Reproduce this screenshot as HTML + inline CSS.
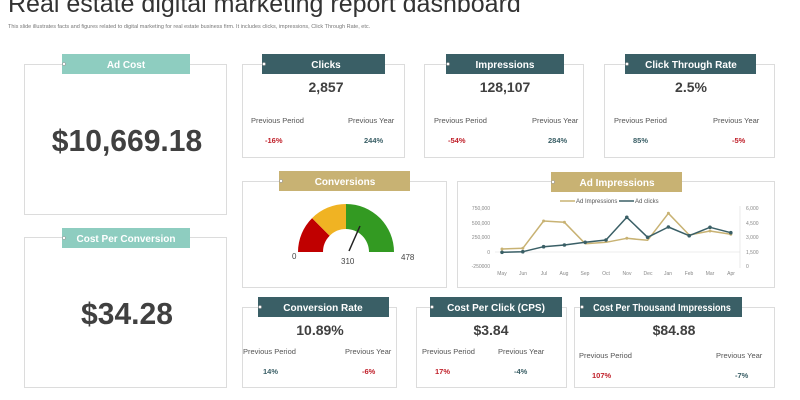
<!DOCTYPE html>
<html><head><meta charset="utf-8"><style>
body{margin:0;background:#fff;}
svg{display:block;font-family:"Liberation Sans",sans-serif;}
</style></head><body>
<svg width="800" height="400" viewBox="0 0 800 400" xmlns="http://www.w3.org/2000/svg">
<text x="8" y="12" font-size="25" fill="#333">Real estate  digital marketing report dashboard</text>
<text x="8" y="28" font-size="5.5" fill="#777">This slide illustrates facts and figures related to digital marketing  for real estate business firm. It includes clicks, impressions, Click Through Rate, etc.</text>
<g fill="#fff" stroke="#dcdcdc" stroke-width="1">
<rect x="24.5" y="64.5" width="202" height="150"/>
<rect x="24.5" y="237.5" width="202" height="150"/>
<rect x="242.5" y="64.5" width="162" height="93"/>
<rect x="424.5" y="64.5" width="159" height="93"/>
<rect x="604.5" y="64.5" width="170" height="93"/>
<rect x="242.5" y="181.5" width="204" height="106"/>
<rect x="457.5" y="181.5" width="317" height="106"/>
<rect x="242.5" y="307.5" width="154" height="80"/>
<rect x="416.5" y="307.5" width="150" height="80"/>
<rect x="574.5" y="307.5" width="200" height="80"/>
</g>
<g font-size="10" fill="#fff" text-anchor="middle" font-weight="bold">
<rect x="62" y="54" width="128" height="20" fill="#8ecdc0"/><text x="126" y="68">Ad Cost</text>
<rect x="62" y="228" width="128" height="20" fill="#8ecdc0"/><text x="126" y="242">Cost Per Conversion</text>
<rect x="262" y="54" width="123" height="20" fill="#3a5f66"/><text x="326" y="68">Clicks</text>
<rect x="446" y="54" width="118" height="20" fill="#3a5f66"/><text x="505" y="68">Impressions</text>
<rect x="625" y="54" width="131" height="20" fill="#3a5f66"/><text x="691" y="68">Click Through Rate</text>
<rect x="279" y="171" width="131" height="20" fill="#c8b273"/><text x="345" y="185">Conversions</text>
<rect x="551" y="172" width="131" height="20" fill="#c8b273"/><text x="617" y="186">Ad Impressions</text>
<rect x="258" y="297" width="131" height="20" fill="#3a5f66"/><text x="323" y="311">Conversion Rate</text>
<rect x="430" y="297" width="132" height="20" fill="#3a5f66"/><text x="496" y="311">Cost Per Click (CPS)</text>
<rect x="580" y="297" width="162" height="20" fill="#3a5f66"/><text transform="translate(662 311) scale(0.9 1)" x="0" y="0">Cost Per Thousand Impressions</text>
</g>
<g fill="#fff" stroke="#999" stroke-width="0.6">
<circle cx="64" cy="64" r="1.5"/><circle cx="64" cy="238" r="1.5"/><circle cx="264" cy="64" r="1.5"/><circle cx="448" cy="64" r="1.5"/><circle cx="627" cy="64" r="1.5"/><circle cx="281" cy="181" r="1.5"/><circle cx="553" cy="182" r="1.5"/><circle cx="260" cy="307" r="1.5"/><circle cx="432" cy="307" r="1.5"/><circle cx="582" cy="307" r="1.5"/>
</g>
<g fill="#404040" font-weight="bold" text-anchor="middle">
<text transform="translate(127 151) scale(0.97 1)" font-size="31">$10,669.18</text>
<text transform="translate(127 324) scale(0.97 1)" font-size="31">$34.28</text>
<text x="326" y="92" font-size="14">2,857</text>
<text x="505" y="92" font-size="14">128,107</text>
<text x="691" y="92" font-size="14">2.5%</text>
<text x="320" y="335" font-size="14">10.89%</text>
<text x="491" y="335" font-size="14">$3.84</text>
<text x="674" y="335" font-size="14">$84.88</text>
</g>
<g font-size="7.5" fill="#555">
<text x="251" y="123">Previous  Period</text><text x="348" y="123">Previous  Year</text>
<text x="434" y="123">Previous  Period</text><text x="532" y="123">Previous  Year</text>
<text x="614" y="123">Previous  Period</text><text x="713" y="123">Previous  Year</text>
<text x="243" y="354">Previous  Period</text><text x="345" y="354">Previous  Year</text>
<text x="422" y="354">Previous  Period</text><text x="498" y="354">Previous  Year</text>
<text x="579" y="358">Previous  Period</text><text x="716" y="358">Previous  Year</text>
</g>
<g font-size="7.5" font-weight="bold">
<text x="265" y="143" fill="#c0202a">-16%</text><text x="364" y="143" fill="#3a5f66">244%</text>
<text x="448" y="143" fill="#c0202a">-54%</text><text x="548" y="143" fill="#3a5f66">284%</text>
<text x="633" y="143" fill="#3a5f66">85%</text><text x="732" y="143" fill="#c0202a">-5%</text>
<text x="263" y="374" fill="#3a5f66">14%</text><text x="362" y="374" fill="#c0202a">-6%</text>
<text x="435" y="374" fill="#c0202a">17%</text><text x="514" y="374" fill="#3a5f66">-4%</text>
<text x="592" y="378" fill="#c0202a">107%</text><text x="735" y="378" fill="#3a5f66">-7%</text>
</g>
<path d="M298 252 A48 48 0 0 1 312.1 218.1 L329.7 235.7 A23 23 0 0 0 323 252 Z" fill="#c00000"/>
<path d="M312.1 218.1 A48 48 0 0 1 346 204 L346 229 A23 23 0 0 0 329.7 235.7 Z" fill="#f0b323"/>
<path d="M346 204 A48 48 0 0 1 394 252 L369 252 A23 23 0 0 0 346 229 Z" fill="#339a22"/>
<line x1="349" y1="251" x2="360" y2="226" stroke="#222" stroke-width="1.5"/>
<g font-size="8" fill="#444"><text x="292" y="259">0</text><text x="341" y="264">310</text><text x="401" y="260">478</text></g>
<g font-size="5" fill="#888">
<text x="490" y="210" text-anchor="end">750,000</text><text x="490" y="225" text-anchor="end">500,000</text><text x="490" y="239" text-anchor="end">250,000</text><text x="490" y="254" text-anchor="end">0</text><text x="490" y="268" text-anchor="end">-250000</text>
<text x="746" y="210">6,000</text><text x="746" y="225">4,500</text><text x="746" y="239">3,000</text><text x="746" y="254">1,500</text><text x="746" y="268">0</text>
<g text-anchor="middle"><text x="502" y="275">May</text><text x="523" y="275">Jun</text><text x="544" y="275">Jul</text><text x="564" y="275">Aug</text><text x="585" y="275">Sep</text><text x="606" y="275">Oct</text><text x="627" y="275">Nov</text><text x="648" y="275">Dec</text><text x="668" y="275">Jan</text><text x="689" y="275">Feb</text><text x="710" y="275">Mar</text><text x="731" y="275">Apr</text></g>
<text x="576" y="203" font-size="6" fill="#555">Ad Impressions</text><text x="635" y="203" font-size="6" fill="#555">Ad clicks</text>
</g>
<line x1="560" y1="201" x2="575" y2="201" stroke="#c8b273" stroke-width="1.5"/>
<line x1="619" y1="201" x2="634" y2="201" stroke="#3a5f66" stroke-width="1.5"/>
<line x1="495" y1="252" x2="740" y2="252" stroke="#ddd" stroke-width="0.6"/>
<line x1="740" y1="206" x2="740" y2="268" stroke="#ddd" stroke-width="0.6"/>
<polyline fill="none" stroke="#c8b273" stroke-width="1.5" stroke-linejoin="round" points="502,249 522.8,248.3 543.6,221 564.4,222.3 585.2,243.7 606,242.3 626.8,238.3 647.6,240.3 668.4,213.3 689.2,235 710,231 730.8,234.3"/>
<polyline fill="none" stroke="#3a5f66" stroke-width="1.5" stroke-linejoin="round" points="502,252.3 522.8,251.7 543.6,246.7 564.4,245 585.2,242.3 606,240 626.8,217.3 647.6,237.3 668.4,227 689.2,235.7 710,227.3 730.8,232.7"/>
<g fill="#c8b273"><circle cx="502" cy="249" r="1.5"/><circle cx="522.8" cy="248.3" r="1.5"/><circle cx="543.6" cy="221" r="1.5"/><circle cx="564.4" cy="222.3" r="1.5"/><circle cx="626.8" cy="238.3" r="1.5"/><circle cx="668.4" cy="213.3" r="1.5"/><circle cx="710" cy="231" r="1.5"/><circle cx="730.8" cy="234.3" r="1.5"/></g>
<g fill="#3a5f66"><circle cx="502" cy="252.3" r="1.8"/><circle cx="522.8" cy="251.7" r="1.8"/><circle cx="543.6" cy="246.7" r="1.8"/><circle cx="564.4" cy="245" r="1.8"/><circle cx="585.2" cy="242.3" r="1.8"/><circle cx="606" cy="240" r="1.8"/><circle cx="626.8" cy="217.3" r="1.8"/><circle cx="647.6" cy="237.3" r="1.8"/><circle cx="668.4" cy="227" r="1.8"/><circle cx="689.2" cy="235.7" r="1.8"/><circle cx="710" cy="227.3" r="1.8"/><circle cx="730.8" cy="232.7" r="1.8"/></g>
</svg>
</body></html>
